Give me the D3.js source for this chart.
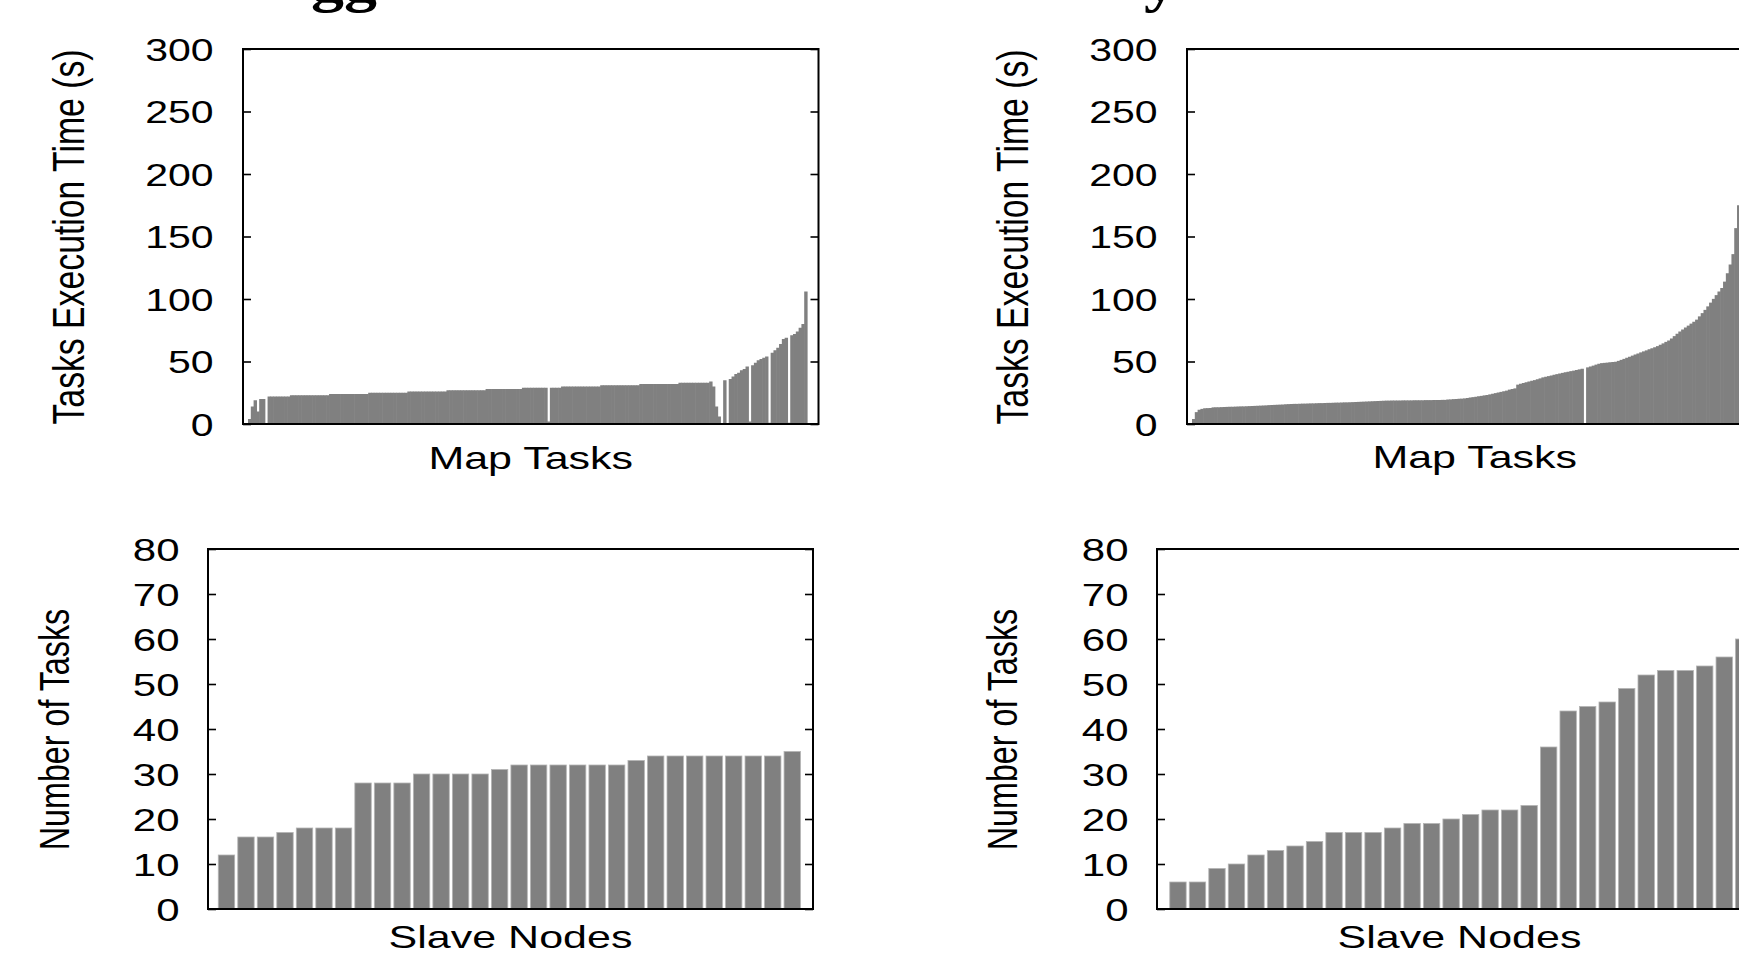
<!DOCTYPE html>
<html>
<head>
<meta charset="utf-8">
<script src="https://cdn.jsdelivr.net/npm/d3@7"></script>
<style>
  html, body { margin: 0; padding: 0; background: #fff; overflow: hidden; }
  svg { display: block; }
</style>
</head>
<body>
<svg id="fig" width="1739" height="955"></svg>
<script>
// ---- data -------------------------------------------------------------

// Map task execution times (s), in plotted order, left configuration
const mapTimesLeft = [
  4, 14, 19, 10, 20, 20, 0,
  22, 22, 22, 22, 22, 22, 22, 22,
  23, 23, 23, 23, 23, 23, 23, 23, 23, 23, 23, 23, 23, 23,
  24, 24, 24, 24, 24, 24, 24, 24, 24, 24, 24, 24, 24, 24,
  25, 25, 25, 25, 25, 25, 25, 25, 25, 25, 25, 25, 25, 25,
  26, 26, 26, 26, 26, 26, 26, 26, 26, 26, 26, 26, 26, 26,
  27, 27, 27, 27, 27, 27, 27, 27, 27, 27, 27, 27, 27, 27,
  28, 28, 28, 28, 28, 28, 28, 28, 28, 28, 28, 28, 28,
  29, 29, 29, 29, 29, 29, 29, 29, 29, 2, 29, 29, 29, 29,
  30, 30, 30, 30, 30, 30, 30, 30, 30, 30, 30, 30, 30, 30,
  31, 31, 31, 31, 31, 31, 31, 31, 31, 31, 31, 31, 31, 31,
  32, 32, 32, 32, 32, 32, 32, 32, 32, 32, 32, 32, 32, 32,
  33, 33, 33, 33, 33, 33, 33, 33, 33, 33, 33,
  34, 30, 14, 6, 0, 35, 0, 36, 38, 40, 41, 43, 44, 46, 2,
  47, 49, 51, 52, 53, 54, 1, 57, 59, 61, 64, 68, 69, 1,
  71, 72, 74, 77, 80, 106
];

// Map task execution times (s), in plotted order, right configuration
const mapTimesRight = [
  4, 9.5, 11.4, 12.1, 12.6, 12.7, 12.8, 13.3, 13.4, 13.4,
  13.5, 13.6, 13.7, 13.8, 13.8, 13.9, 14.0, 14.1, 14.1, 14.2,
  14.3, 14.4, 14.5, 14.6, 14.7, 14.8, 14.9, 15.1, 15.2, 15.3,
  15.4, 15.5, 15.6, 15.8, 15.9, 16.0, 16.1, 16.1, 16.2, 16.3,
  16.3, 16.4, 16.5, 16.5, 16.6, 16.7, 16.7, 16.8, 16.9, 16.9,
  17.0, 17.1, 17.1, 17.2, 17.3, 17.3, 17.4, 17.5, 17.6, 17.7,
  17.8, 17.9, 18.0, 18.1, 18.2, 18.3, 18.4, 18.5, 18.6, 18.7,
  18.7, 18.8, 18.8, 18.8, 18.8, 18.9, 18.9, 18.9, 18.9, 19.0,
  19.0, 19.0, 19.0, 19.1, 19.1, 19.1, 19.2, 19.2, 19.2, 19.3,
  19.3, 19.6, 19.7, 19.9, 20.0, 20.2, 20.3, 20.5, 20.8, 21.2,
  21.5, 21.8, 22.2, 22.5, 22.9, 23.2, 23.7, 24.2, 24.7, 25.2,
  25.7, 26.2, 26.7, 27.5, 28.0, 28.5, 31.5, 32.2, 32.8, 33.4,
  34.0, 34.6, 35.1, 35.8, 36.5, 37.3, 37.8, 38.3, 38.8, 39.4,
  39.9, 40.4, 40.9, 41.4, 41.8, 42.3, 42.7, 43.2, 43.7, 44.2,
  0, 45.3, 46.0, 46.7, 47.5, 48.2, 48.7, 48.9, 49.1, 49.4,
  49.6, 49.8, 50.5, 51.3, 52.1, 53.0, 53.8, 54.7, 55.6, 56.4,
  57.3, 58.1, 58.9, 59.8, 60.6, 61.4, 62.3, 63.4, 64.5, 65.7,
  66.8, 68.4, 70.3, 72.2, 74.0, 75.6, 77.2, 78.7, 80.3, 81.8,
  83.5, 86.1, 88.7, 91.3, 94.1, 97.1, 100.1, 103.1, 106.0, 108.8,
  113.9, 120.6, 127.6, 135.9, 156.7, 175.0, 186, 200, 218, 245
];

// Number of map tasks run by each slave node
const tasksPerNodeLeft = [
  12, 16, 16, 17, 18, 18, 18, 28, 28, 28,
  30, 30, 30, 30, 31, 32, 32, 32, 32, 32,
  32, 33, 34, 34, 34, 34, 34, 34, 34, 35
];
const tasksPerNodeRight = [
  6, 6, 9, 10, 12, 13, 14, 15, 17, 17,
  17, 18, 19, 19, 20, 21, 22, 22, 23, 36,
  44, 45, 46, 49, 52, 53, 53, 54, 56, 60
];

const timeTicks = [0, 50, 100, 150, 200, 250, 300];
const countTicks = [0, 10, 20, 30, 40, 50, 60, 70, 80];

const timeAxisTitle = "Tasks Execution Time (s)";
const countAxisTitle = "Number of Tasks";
const mapAxisTitle = "Map Tasks";
const nodeAxisTitle = "Slave Nodes";
const headingFragments = ["gg", "y"];

// ---- styling ----------------------------------------------------------
const SANS = '"Liberation Sans", Arial, Helvetica, sans-serif';
const SERIF = '"Liberation Serif", "Times New Roman", serif';
const SQ = 0.75;           // vertical text compression of the figure
const BAR = "#808080";

const svg = d3.select("#fig");

// ---- panel layout -----------------------------------------------------
const panels = [
  { kind: "map",   values: mapTimesLeft,  frame: { x0: 243,  x1: 818.5,  y0: 49,  y1: 424 }, data: [248, 807],
    yTitleX: 68,   yTitleSize: 45, tickSize: 41, xTitleY: 469 },
  { kind: "map",   values: mapTimesRight, frame: { x0: 1187, x1: 1762.5, y0: 49,  y1: 424 }, data: [1192, 1751],
    yTitleX: 1012, yTitleSize: 45, tickSize: 41, xTitleY: 468 },
  { kind: "nodes", values: tasksPerNodeLeft,  frame: { x0: 208,  x1: 813,  y0: 549, y1: 909 }, data: [208, 813],
    yTitleX: 54,   yTitleSize: 43, tickSize: 42, xTitleY: 948 },
  { kind: "nodes", values: tasksPerNodeRight, frame: { x0: 1157, x1: 1762, y0: 549, y1: 909 }, data: [1159.5, 1764.5],
    yTitleX: 1002, yTitleSize: 43, tickSize: 42, xTitleY: 948 }
];

panels.forEach(p => {
  const f = p.frame;
  const g = svg.append("g");
  const isMap = p.kind === "map";

  const y = d3.scaleLinear()
    .domain(isMap ? [0, 300] : [0, 80])
    .range([f.y1, f.y0]);

  if (isMap) {
    const x = d3.scaleBand()
      .domain(d3.range(p.values.length))
      .range(p.data)
      .padding(0);
    g.append("g").selectAll("rect")
      .data(p.values)
      .join("rect")
      .attr("x", (d, i) => x(i))
      .attr("width", x.bandwidth() + 0.6)
      .attr("y", d => y(d))
      .attr("height", d => y(0) - y(d))
      .attr("fill", BAR);
  } else {
    const x = d3.scaleBand()
      .domain(d3.range(p.values.length))
      .range(p.data)
      .paddingInner(0.16)
      .paddingOuter(0.585)
      .align(0.45);
    g.append("g").selectAll("rect")
      .data(p.values)
      .join("rect")
      .attr("x", (d, i) => x(i))
      .attr("width", x.bandwidth())
      .attr("y", d => y(d))
      .attr("height", d => y(0) - y(d))
      .attr("fill", BAR)
      .attr("stroke", "#b4b4b4")
      .attr("stroke-width", 0.8);
  }

  const ticks = isMap ? timeTicks : countTicks;

  // left axis: inward ticks with labels
  const left = g.append("g")
    .attr("transform", `translate(${f.x0},0)`)
    .call(d3.axisLeft(y).tickValues(ticks).tickSizeInner(-8).tickSizeOuter(0).tickPadding(isMap ? 29.5 : 28.5));
  // right axis: mirrored inward ticks only
  const right = g.append("g")
    .attr("transform", `translate(${f.x1},0)`)
    .call(d3.axisRight(y).tickValues(ticks).tickSizeInner(-8).tickSizeOuter(0).tickFormat(""));

  [left, right].forEach(a => {
    a.attr("font-size", null).attr("font-family", null);
    a.select(".domain").remove();
    a.selectAll(".tick line").attr("stroke", "#000").attr("stroke-width", 1.6);
  });
  left.selectAll(".tick text")
    .attr("fill", "#000")
    .style("font-family", SANS)
    .style("font-size", p.tickSize + "px")
    .attr("dy", "0.36em")
    .attr("transform", `scale(1,${SQ})`);

  // plot frame
  g.append("rect")
    .attr("x", f.x0).attr("y", f.y0)
    .attr("width", f.x1 - f.x0).attr("height", f.y1 - f.y0)
    .attr("fill", "none").attr("stroke", "#000").attr("stroke-width", 2);

  // axis titles
  g.append("text")
    .attr("transform", `translate(${p.yTitleX},${(f.y0 + f.y1) / 2 + 0.5}) scale(1,${SQ}) rotate(-90)`)
    .attr("text-anchor", "middle")
    .attr("dy", "0.36em")
    .style("font-family", SANS)
    .style("font-size", p.yTitleSize + "px")
    .attr("fill", "#000")
    .text(isMap ? timeAxisTitle : countAxisTitle);

  g.append("text")
    .attr("transform", `translate(${(f.x0 + f.x1) / 2},${p.xTitleY}) scale(1,${SQ})`)
    .attr("text-anchor", "middle")
    .style("font-family", SANS)
    .style("font-size", "43px")
    .attr("fill", "#000")
    .text(isMap ? mapAxisTitle : nodeAxisTitle);
});

// heading lines above the panels (only their lowest strokes fall inside the figure)
[[311, headingFragments[0]], [1144, headingFragments[1]]].forEach(([hx, t]) => {
  svg.append("text")
    .attr("transform", `translate(${hx},1) scale(1,0.85)`)
    .style("font-family", SERIF)
    .style("font-weight", "bold")
    .style("font-size", "66px")
    .attr("fill", "#000")
    .text(t);
});
</script>
</body>
</html>
